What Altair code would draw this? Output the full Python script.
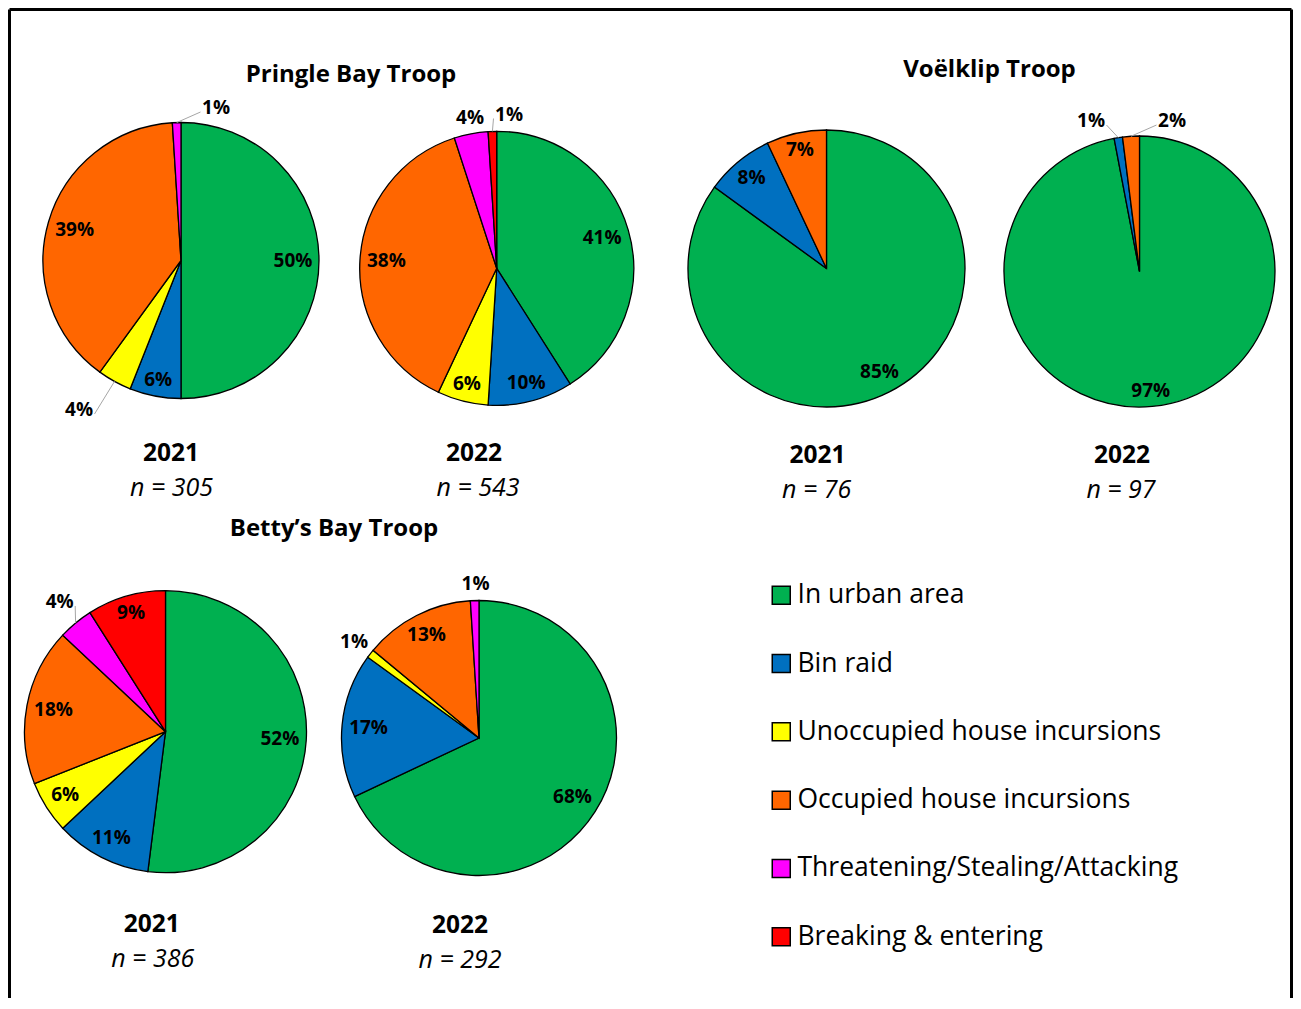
import math
import altair as alt
import pandas as pd

# ---------------- data ----------------
CATEGORIES = [
    "In urban area",
    "Bin raid",
    "Unoccupied house incursions",
    "Occupied house incursions",
    "Threatening/Stealing/Attacking",
    "Breaking & entering",
]
COLORS = ["#00B050", "#0070C0", "#FFFF00", "#FF6600", "#FF00FF", "#FF0000"]

PIE_KEYS = ["PB2021", "PB2022", "V2021", "V2022", "BB2021", "BB2022"]
PIE_YEAR = ["2021", "2022", "2021", "2022", "2021", "2022"]
PIE_N = [305, 543, 76, 97, 386, 292]
TROOP_TITLES = ["Pringle Bay Troop", "Voëlklip Troop", "Betty’s Bay Troop"]

# percentage share of each category (order = CATEGORIES), 0 = absent
PB2021 = [50, 6, 4, 39, 1, 0]
PB2022 = [41, 10, 6, 38, 4, 1]
V2021 = [85, 8, 0, 7, 0, 0]
V2022 = [97, 1, 0, 2, 0, 0]
BB2021 = [52, 11, 6, 18, 4, 9]
BB2022 = [68, 17, 1, 13, 1, 0]
SHARES = {"PB2021": PB2021, "PB2022": PB2022, "V2021": V2021,
          "V2022": V2022, "BB2021": BB2021, "BB2022": BB2022}

# ---------------- layout (pixels, chart coordinates) ----------------
W, H = 1285, 990
PIE_CENTER = {"PB2021": (173, 252.5), "PB2022": (488.7, 260.3),
              "V2021": (818.5, 260.5), "V2022": (1131.5, 263.5),
              "BB2021": (157.5, 723.7), "BB2022": (471, 730)}
PIE_RADIUS = {"PB2021": 138, "PB2022": 137, "V2021": 138.5,
              "V2022": 135.5, "BB2021": 141, "BB2022": 137.5}
TITLE_POS = [(343, 73.7), (981.5, 68.7), (326, 527.7)]
YEAR_POS = {"PB2021": (163, 453), "PB2022": (466, 453),
            "V2021": (809.5, 455.3), "V2022": (1114, 455.3),
            "BB2021": (143.7, 923.7), "BB2022": (452, 924.7)}
N_POS = {"PB2021": (163.5, 488), "PB2022": (470, 488),
         "V2021": (808.7, 490.3), "V2022": (1113, 490.3),
         "BB2021": (144.7, 958.7), "BB2022": (452, 960.3)}
# manual placement (offset from pie centre, leader line?) of labels outside small slices
OUTSIDE_LABEL = {
    ("PB2021", 4): (35, -152.5, True), ("PB2021", 2): (-102, 149.5, True),
    ("PB2022", 4): (-26.7, -150.8, False), ("PB2022", 5): (12.3, -153.8, True),
    ("V2022", 1): (-48.5, -150.5, True), ("V2022", 3): (32.5, -150.5, True),
    ("BB2021", 4): (-105.8, -129.7, True),
    ("BB2022", 2): (-125, -96.5, False), ("BB2022", 4): (-3.5, -154, False),
}

FONT = "Open Sans"

# ---------------- tables ----------------
slice_rows, label_rows, leader_rows = [], [], []
for key in PIE_KEYS:
    vals = SHARES[key]
    total = sum(vals)
    cx, cy = PIE_CENTER[key]
    r = PIE_RADIUS[key]
    start = 0.0
    for i, v in enumerate(vals):
        if v <= 0:
            continue
        slice_rows.append({"pie": key, "category": CATEGORIES[i], "order": i, "value": v})
        mid = (start + v / 2) / total * 2 * math.pi
        s, c = math.sin(mid), math.cos(mid)
        text = f"{v}%"
        hw = (11 * (len(text) - 1) + 16) / 2
        if (key, i) in OUTSIDE_LABEL:
            dx, dy, lead = OUTSIDE_LABEL[(key, i)]
            lx, ly = cx + dx, cy + dy
            ex, ey = cx + r * s, cy - r * c
            if lx < ex:
                tx, ty = lx + hw + 2, ly + 4
            else:
                tx, ty = lx - hw - 2, ly + 4
            if lead:
                leader_rows.append({"x": ex, "y": ey, "x2": tx, "y2": ty})
        else:
            d = r - 7 - (hw * abs(s) + 7 * abs(c))
            lx, ly = cx + d * s, cy - d * c
        label_rows.append({"x": lx, "y": ly, "text": text})
        start += v

slices = pd.DataFrame(slice_rows)
labels = pd.DataFrame(label_rows)
leaders = pd.DataFrame(leader_rows)

titles = pd.DataFrame([{"x": p[0], "y": p[1], "text": t} for t, p in zip(TROOP_TITLES, TITLE_POS)])
years = pd.DataFrame([{"x": YEAR_POS[k][0], "y": YEAR_POS[k][1], "text": y}
                      for k, y in zip(PIE_KEYS, PIE_YEAR)])
ns = pd.DataFrame([{"x": N_POS[k][0], "y": N_POS[k][1], "text": f"n = {n}"}
                   for k, n in zip(PIE_KEYS, PIE_N)])
border = pd.DataFrame([
    {"x": 1.5, "y": 1.5, "x2": W - 1.5, "y2": 1.5},
    {"x": 1.5, "y": 1.5, "x2": 1.5, "y2": H},
    {"x": W - 1.5, "y": 1.5, "x2": W - 1.5, "y2": H},
])

legend = alt.Legend(
    title=None, orient="none", legendX=760, legendY=574,
    symbolType="square", symbolSize=324, symbolStrokeColor="black",
    symbolStrokeWidth=1.5, symbolOpacity=1, labelFont=FONT, labelFontSize=26.5,
    labelColor="black", labelOffset=3, rowPadding=41.3, labelLimit=600,
)
color = alt.Color("category:N", scale=alt.Scale(domain=CATEGORIES, range=COLORS),
                  sort=CATEGORIES, legend=legend)

layers = []
for key in PIE_KEYS:
    cx, cy = PIE_CENTER[key]
    layers.append(
        alt.Chart(slices)
        .transform_filter(alt.datum.pie == key)
        .mark_arc(radius=PIE_RADIUS[key], stroke="black", strokeWidth=1.3)
        .encode(
            theta=alt.Theta("value:Q", stack="normalize"),
            order=alt.Order("order:Q", sort="ascending"),
            color=color,
            x=alt.value(cx),
            y=alt.value(cy),
        )
    )

X = lambda f: alt.X(f"{f}:Q", scale=None, axis=None)
Y = lambda f: alt.Y(f"{f}:Q", scale=None, axis=None)

leader_layer = alt.Chart(leaders).mark_rule(color="#A6A6A6", strokeWidth=1).encode(
    x=X("x"), y=Y("y"), x2="x2:Q", y2="y2:Q")
pct_layer = alt.Chart(labels).mark_text(
    font=FONT, fontWeight="bold", fontSize=19, color="black", align="center", baseline="middle"
).encode(x=X("x"), y=Y("y"), text="text:N")
title_layer = alt.Chart(titles).mark_text(
    font=FONT, fontWeight="bold", fontSize=24, color="black", align="center", baseline="alphabetic"
).encode(x=X("x"), y=Y("y"), text="text:N")
year_layer = alt.Chart(years).mark_text(
    font=FONT, fontWeight="bold", fontSize=24.5, color="black", align="center", baseline="alphabetic"
).encode(x=X("x"), y=Y("y"), text="text:N")
n_layer = alt.Chart(ns).mark_text(
    font=FONT, fontStyle="italic", fontSize=25, color="black", align="center", baseline="alphabetic"
).encode(x=X("x"), y=Y("y"), text="text:N")
border_layer = alt.Chart(border).mark_rule(color="black", strokeWidth=3).encode(
    x=X("x"), y=Y("y"), x2="x2:Q", y2="y2:Q")

chart = (
    alt.layer(*layers, leader_layer, pct_layer, title_layer, year_layer, n_layer, border_layer)
    .properties(width=W, height=H, autosize=alt.AutoSizeParams(type="none"), padding=0,
                background="white")
    .configure_view(stroke=None)
)

chart.save("out.html", embed_options={"renderer": "svg", "actions": False})
